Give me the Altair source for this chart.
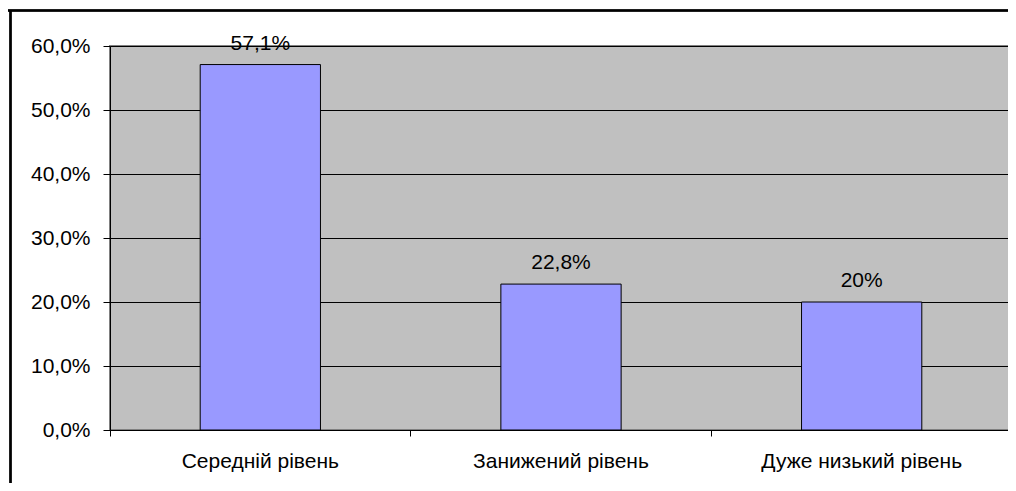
import altair as alt
import pandas as pd

categories = ["Середній рівень", "Занижений рівень", "Дуже низький рівень"]
values = [57.1, 22.8, 20.0]
value_labels = ["57,1%", "22,8%", "20%"]
y_ticks = [0, 10, 20, 30, 40, 50, 60]

df = pd.DataFrame({"cat": categories, "val": values, "lab": value_labels})

FONT = "Liberation Sans"
FS = 21

x_enc = alt.X(
    "cat:N",
    sort=categories,
    title=None,
    scale=alt.Scale(paddingInner=0, paddingOuter=0),
    axis=alt.Axis(
        labelAngle=0,
        bandPosition=0,
        tickSize=6,
        tickColor="black",
        domainColor="black",
        labelPadding=14,
        labelFont=FONT,
        labelFontSize=FS,
        labelColor="black",
        labelLimit=400,
        grid=False,
    ),
)
y_enc = alt.Y(
    "val:Q",
    title=None,
    scale=alt.Scale(domain=[0, 60], nice=False),
    axis=alt.Axis(
        values=y_ticks,
        labelExpr="replace(format(datum.value, '.1f'), '.', ',') + '%'",
        tickSize=7,
        tickColor="black",
        domainColor="black",
        labelPadding=13,
        labelFont=FONT,
        labelFontSize=FS,
        labelColor="black",
        grid=True,
        gridColor="black",
        gridWidth=1,
        gridOpacity=1,
    ),
)

bars = alt.Chart(df).mark_bar(
    width=alt.RelativeBandSize(0.4), color="#9999ff", stroke="black", strokeWidth=1
).encode(x=x_enc, y=y_enc)

texts = alt.Chart(df).mark_text(
    baseline="alphabetic", dy=-15, font=FONT, fontSize=FS, color="black"
).encode(x=alt.X("cat:N", sort=categories), y="val:Q", text="lab:N")

frame_top = alt.Chart(df).mark_rule(color="black", strokeWidth=2).encode(
    x=alt.value(-120), x2=alt.value(1000), y=alt.value(-35.5)
)
frame_left = alt.Chart(df).mark_rule(color="black", strokeWidth=2).encode(
    x=alt.value(-99.5), y=alt.value(-36), y2=alt.value(470)
)
last_tick = alt.Chart(df).mark_rule(color="black", strokeWidth=1).encode(
    x=alt.value(902), y=alt.value(384), y2=alt.value(390)
)

chart = (
    alt.layer(bars, texts, frame_top, frame_left, last_tick)
    .properties(
        width=902,
        height=384,
        autosize=alt.AutoSizeParams(type="none"),
        padding={"left": 102, "top": 38, "right": -4, "bottom": 53},
        background="white",
    )
    .configure_view(fill="#c0c0c0", stroke="#808080", strokeWidth=2)
)

chart.save("out.html", embed_options={"renderer": "svg", "actions": False})
